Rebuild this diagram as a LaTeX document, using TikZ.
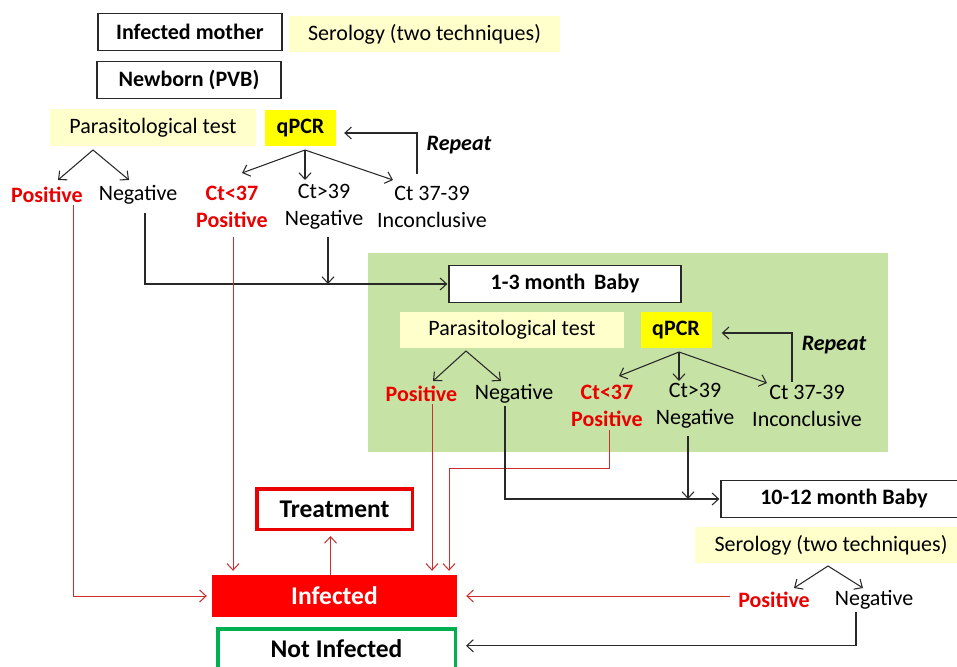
\documentclass[tikz,border=0pt]{standalone}
\usepackage{fontspec}
\setmainfont{Carlito}
\usetikzlibrary{arrows.meta}
\definecolor{lyel}{RGB}{255,255,204}
\definecolor{qyel}{RGB}{255,255,0}
\definecolor{lgreen}{RGB}{198,226,165}
\definecolor{tred}{RGB}{235,0,0}
\definecolor{lred}{RGB}{205,45,45}
\definecolor{gborder}{RGB}{0,176,80}
\definecolor{lblack}{RGB}{40,40,40}
\begin{document}
\begin{tikzpicture}[x=1pt,y=-1pt,
  every node/.style={font=\fontsize{22}{27}\selectfont, inner sep=0pt, align=center},
  box/.style={draw=lblack, line width=1.3pt, fill=white, minimum height=37pt},
  softbox/.style={fill=lyel, minimum height=36pt},
  qbox/.style={fill=qyel, minimum height=36pt, minimum width=71pt, font=\fontsize{22}{27}\selectfont\bfseries},
  redtxt/.style={text=tred, font=\fontsize{22}{27}\selectfont\bfseries},
  reptxt/.style={font=\fontsize{22}{27}\selectfont\bfseries\itshape},
  outbox/.style={font=\fontsize{25.5}{30}\selectfont\bfseries},
  arr/.style={draw=lblack, line width=1.05pt, -{Straight Barb[length=6.5pt,width=12pt]}},
  rarr/.style={draw=lred, line width=1pt, -{Straight Barb[length=6.5pt,width=12pt]}},
]
\useasboundingbox (0,0) rectangle (957,666);
\fill[white] (0,0) rectangle (957,666);
\fill[lgreen] (368,253) rectangle (888,452);

% ---- top level
\node[box, minimum width=184pt] (mother) at (190,32) {\bfseries Infected mother};
\node[softbox, minimum width=271pt] (serol1) at (424.5,34) {Serology (two techniques)};
\node[box, minimum width=184pt] (newborn) at (189,80) {\bfseries Newborn (PVB)};
\node[softbox, minimum width=206pt] (para1) at (153,127.5) {Parasitological test};
\node[qbox] (qpcr1) at (300.5,128) {qPCR};

\node[redtxt] (pos1) at (47,195) {Positive};
\node (neg1) at (138,195) {Negative};
\node[redtxt] (c37a) at (232,206.5) {Ct<37\\Positive};
\node (c39a) at (324,206.5) {Ct>39\\Negative};
\node (cia) at (432,206.5) {Ct 37-39\\Inconclusive};
\node[reptxt] (rep1) at (459,145) {Repeat};

\coordinate (pa1) at (93,150);
\coordinate (pa1l) at (58,180);
\coordinate (pa1r) at (129,180);
\draw[arr] (pa1) -- (pa1l);
\draw[arr] (pa1) -- (pa1r);
\coordinate (qa1) at (305,150);
\coordinate (qa1l) at (242,173);
\coordinate (qa1m) at (305,180);
\coordinate (qa1r) at (393,180);
\draw[arr] (qa1) -- (qa1l);
\draw[arr] (qa1) -- (qa1m);
\draw[arr] (qa1) -- (qa1r);
\coordinate (rp1) at (417,174);
\draw[arr] (rp1) |- ([xshift=8pt,yshift=-5pt]qpcr1.east);

% ---- 1-3 month level
\node[box, minimum width=232pt] (baby13) at (565,284) {\bfseries 1-3 month\, Baby};
\node[softbox, minimum width=224pt] (para2) at (512,330) {Parasitological test};
\node[qbox] (qpcr2) at (676,330) {qPCR};

\node[redtxt] (pos2) at (421.5,394) {Positive};
\node (neg2) at (514,394) {Negative};
\node[redtxt] (c37b) at (607,406) {Ct<37\\Positive};
\node (c39b) at (695,406) {Ct>39\\Negative};
\node (cib) at (807,406) {Ct 37-39\\Inconclusive};
\node[reptxt] (rep2) at (834,345) {Repeat};

\coordinate (pa2) at (466,351);
\coordinate (pa2l) at (433,381);
\coordinate (pa2r) at (501,381);
\draw[arr] (pa2) -- (pa2l);
\draw[arr] (pa2) -- (pa2r);
\coordinate (qa2) at (679,352);
\coordinate (qa2l) at (619,376);
\coordinate (qa2m) at (679,381);
\coordinate (qa2r) at (767,383);
\draw[arr] (qa2) -- (qa2l);
\draw[arr] (qa2) -- (qa2m);
\draw[arr] (qa2) -- (qa2r);
\coordinate (rp2) at (792,382);
\draw[arr] (rp2) |- ([xshift=10pt,yshift=-3pt]qpcr2.east);

% ---- 10-12 month level
\node[box, minimum width=246pt] (baby1012) at (844,499) {\bfseries 10-12 month Baby};
\node[softbox, minimum width=272pt] (serol2) at (831,545) {Serology (two techniques)};
\node[redtxt] (pos3) at (774,600) {Positive};
\node (neg3) at (874,600) {Negative};
\coordinate (sa) at (828,566);
\coordinate (sal) at (794,588);
\coordinate (sar) at (863,588);
\draw[arr] (sa) -- (sal);
\draw[arr] (sa) -- (sar);

% ---- outcomes
\node[outbox, draw=tred, line width=3.5pt, fill=white, minimum width=155.5pt, minimum height=40.5pt] (treat) at (334.5,509) {Treatment};
\node[outbox, fill=red, text=white, minimum width=245pt, minimum height=42pt] (infected) at (334.5,596) {Infected};
\node[outbox, draw=gborder, line width=3.5pt, fill=white, minimum width=237.5pt, minimum height=40pt] (notinf) at (336.5,648.75) {Not Infected};

% ---- connectors
\coordinate (p1s) at (73,205);
\draw[rarr, shorten >=5pt] (p1s) |- (infected.west);
\coordinate (n1s) at (145,213);
\draw[arr, shorten >=1pt] (n1s) |- (baby13.west);
\coordinate (c37as) at (233,237);
\draw[rarr, shorten >=4pt] (c37as) -- (c37as |- infected.north);
\coordinate (c39as) at (328,237);
\draw[arr] (c39as) -- (c39as |- baby13.west);

\coordinate (p2s) at (432,404);
\draw[rarr, shorten >=4pt] (p2s) -- (p2s |- infected.north);
\coordinate (c37bs) at (609,430);
\coordinate (c37bk) at (449,468);
\draw[rarr, shorten >=4pt] (c37bs) |- (c37bk) -- (c37bk |- infected.north);
\coordinate (n2s) at (505,406);
\draw[arr, shorten >=1pt] (n2s) |- (baby1012.west);
\coordinate (c39bs) at (688,436);
\draw[arr] (c39bs) -- (c39bs |- baby1012.west);

\coordinate (p3s) at (730,596);
\draw[rarr, shorten >=9pt] (p3s) -- (p3s -| infected.east);
\coordinate (n3s) at (856,612);
\draw[arr, shorten >=9pt] (n3s) |- ([yshift=3pt]notinf.east);
\draw[rarr, shorten >=5pt] ([xshift=-4pt]infected.north) -- ([xshift=-4pt]infected.north |- treat.south);
\end{tikzpicture}
\end{document}
